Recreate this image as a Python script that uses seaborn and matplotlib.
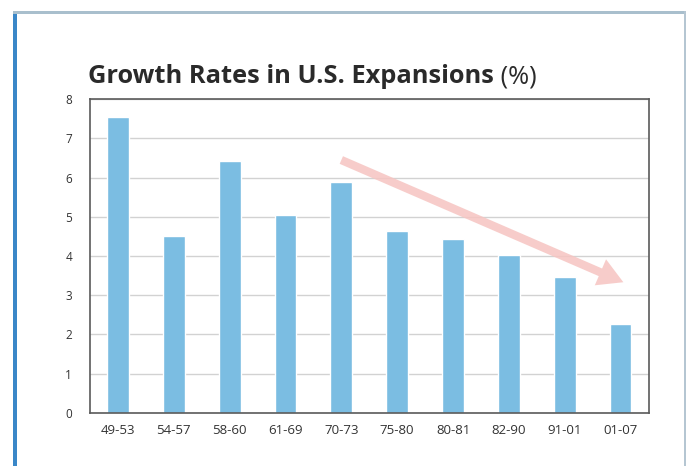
import matplotlib
matplotlib.use("Agg")
import matplotlib.pyplot as plt
import seaborn as sns
import pandas as pd
from matplotlib.patches import Rectangle
from matplotlib.ticker import MultipleLocator

periods = ["49-53", "54-57", "58-60", "61-69", "70-73", "75-80", "80-81", "82-90", "91-01", "01-07"]
growth = [7.55, 4.52, 6.43, 5.04, 5.88, 4.64, 4.44, 4.02, 3.47, 2.27]
title_main = "Growth Rates in U.S. Expansions"
title_unit = " (%)"
y_ticks = [0, 1, 2, 3, 4, 5, 6, 7, 8]
trend_start = (4, 6.45)
trend_end = (9.05, 3.33)

sns.set_theme(style="white")
plt.rcParams["font.family"] = ["Open Sans", "DejaVu Sans"]

df = pd.DataFrame({"period": periods, "growth": growth})

fig = plt.figure(figsize=(6.92, 4.66), dpi=100)
W, H = 692, 466
ax = fig.add_axes([90 / W, (H - 412.7) / H, (648.5 - 90) / W, (412.7 - 99.3) / H])

ax.yaxis.grid(True, color="#d2d2d2", linewidth=1.0)
ax.set_axisbelow(True)
sns.barplot(data=df, x="period", y="growth", color="#7bbde2", saturation=1,
            width=0.39, ax=ax, zorder=2)

ax.set_ylim(0, 8)
ax.set_xlim(-0.5, len(periods) - 0.5)
ax.set_yticks(y_ticks)
ax.set_xlabel("")
ax.set_ylabel("")
for s in ax.spines.values():
    s.set_visible(True)
    s.set_color("#5a5a5a")
    s.set_linewidth(1.2)
ax.tick_params(axis="y", length=0, pad=13, labelsize=8.5, labelcolor="#333333")
ax.tick_params(axis="x", which="major", length=0, pad=8, labelsize=9.5, labelcolor="#333333")
ax.xaxis.set_minor_locator(MultipleLocator(1, offset=0.5))
ax.tick_params(axis="x", which="minor", direction="in", length=4, width=1, color="#5a5a5a")

ax.annotate("", xy=trend_end, xytext=trend_start,
            arrowprops=dict(arrowstyle="simple,head_length=1.5,head_width=1.7,tail_width=0.5",
                            mutation_scale=12, color="#f6c4c1", alpha=0.85, lw=0,
                            shrinkA=0, shrinkB=0), zorder=3)

t1 = fig.text(88 / W, (H - 83) / H, title_main, fontsize=18.3, fontweight="bold",
              color="#2a2a2a", ha="left", va="baseline")
fig.canvas.draw()
bb = t1.get_window_extent()
fig.text(bb.x1 / W, (H - 83) / H, title_unit, fontsize=18.3, fontweight="normal",
         color="#2a2a2a", ha="left", va="baseline")

# frame decoration
fig.add_artist(Rectangle((12.5 / W, 0), 4.2 / W, (H - 11) / H, transform=fig.transFigure,
                         facecolor="#3a87c8", edgecolor="none"))
fig.add_artist(Rectangle((12.5 / W, (H - 13.5) / H), (686 - 12.5) / W, 2.5 / H,
                         transform=fig.transFigure, facecolor="#a9bfcd", edgecolor="none"))
fig.add_artist(Rectangle((683.5 / W, 0), 2.5 / W, (H - 11) / H, transform=fig.transFigure,
                         facecolor="#b5c6d2", edgecolor="none"))

fig.savefig("out.png", dpi=100)
